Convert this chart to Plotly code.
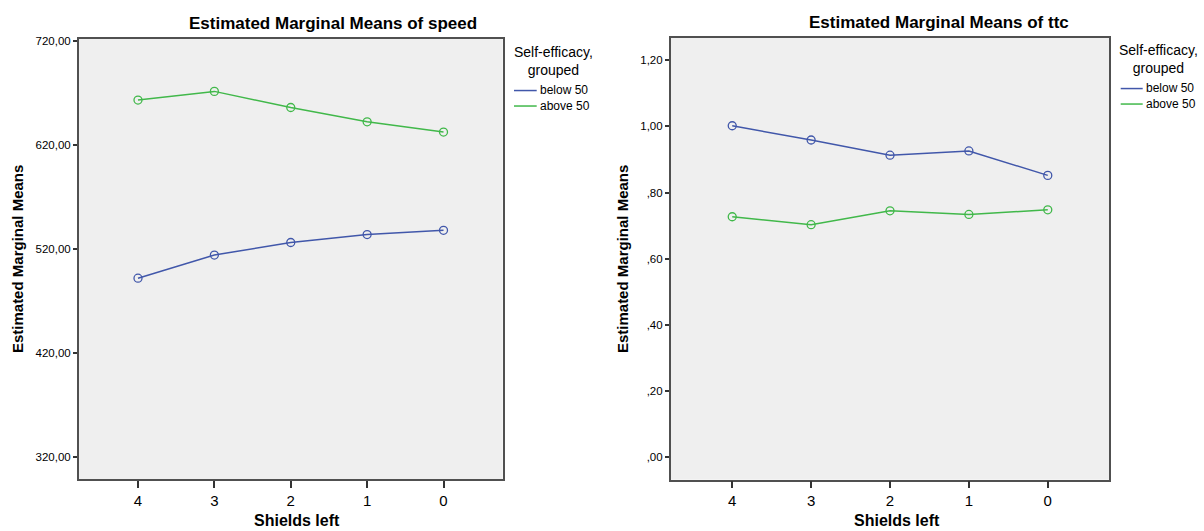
import plotly.graph_objects as go

# ---- data ----
shields = ["4", "3", "2", "1", "0"]
speed_below50 = [492.1, 514.3, 526.4, 534.0, 538.1]
speed_above50 = [663.3, 671.6, 656.1, 642.4, 632.5]
ttc_below50 = [1.002, 0.959, 0.913, 0.926, 0.852]
ttc_above50 = [0.727, 0.703, 0.745, 0.734, 0.748]

speed_ticks = [320, 420, 520, 620, 720]
speed_ticktext = ["320,00", "420,00", "520,00", "620,00", "720,00"]
ttc_ticks = [0.0, 0.2, 0.4, 0.6, 0.8, 1.0, 1.2]
ttc_ticktext = [",00", ",20", ",40", ",60", ",80", "1,00", "1,20"]

group_names = ["below 50", "above 50"]
legend_title = ["Self-efficacy,", "grouped"]
BLUE = "#4157aa"
GREEN = "#41b84a"
FONT = "Arial, Liberation Sans, sans-serif"

W, H = 1204, 531


def px_x(p):
    return p / W


def px_y(p):
    return 1 - p / H


fig = go.Figure()

panels = [
    ("x", "y", [speed_below50, speed_above50]),
    ("x2", "y2", [ttc_below50, ttc_above50]),
]
for xa, ya, series in panels:
    for name, vals, col in zip(group_names, series, [BLUE, GREEN]):
        fig.add_trace(go.Scatter(
            x=shields, y=vals, xaxis=xa, yaxis=ya, mode="lines+markers", name=name,
            line=dict(color=col, width=1.5),
            marker=dict(symbol="circle-open", size=8, color=col, line=dict(width=1.3)),
            showlegend=False, hoverinfo="skip"))

axis_common = dict(
    showline=True, linecolor="#505050", linewidth=1.5, mirror=True,
    showgrid=False, zeroline=False, ticks="outside", tickcolor="#333333",
    tickwidth=1.5, color="#000000",
)

annotations = []
shapes = []

# chart titles
for text, cx, cy in [("Estimated Marginal Means of speed", 333, 20),
                     ("Estimated Marginal Means of ttc", 939, 19)]:
    annotations.append(dict(text=f"<b>{text}</b>", xref="paper", yref="paper",
                            x=px_x(cx), y=px_y(cy), xanchor="center", yanchor="middle",
                            showarrow=False, font=dict(size=17)))

# y-axis titles
for cx, cy in [(17, 257), (622, 257)]:
    annotations.append(dict(text="<b>Estimated Marginal Means</b>", xref="paper", yref="paper",
                            x=px_x(cx), y=px_y(cy), xanchor="center", yanchor="middle",
                            textangle=-90, showarrow=False, font=dict(size=15)))

# x-axis titles
for cx, cy in [(297, 520), (897, 520)]:
    annotations.append(dict(text="<b>Shields left</b>", xref="paper", yref="paper",
                            x=px_x(cx), y=px_y(cy), xanchor="center", yanchor="middle",
                            showarrow=False, font=dict(size=16)))

# legends (one per panel): title block + item block
ITEM_FS = 12
ITEM_STEP = 15.6  # rendered line spacing for a 12px two-line annotation
for tx, tcy, lx0, lx1, icy in [(553, 57, 514, 536.7, 95),
                               (1158, 55, 1120.7, 1142.7, 93)]:
    annotations.append(dict(text="<br>".join(legend_title), xref="paper", yref="paper",
                            x=px_x(tx), y=px_y(tcy), xanchor="center", yanchor="middle",
                            align="center", showarrow=False, font=dict(size=14)))
    annotations.append(dict(text="<br>".join(group_names), xref="paper", yref="paper",
                            x=px_x(lx1 + 1), y=px_y(icy), xanchor="left", yanchor="middle",
                            align="left", showarrow=False, font=dict(size=ITEM_FS)))
    for k, col in enumerate([BLUE, GREEN]):
        yy = icy + (k - 0.5) * ITEM_STEP
        shapes.append(dict(type="line", xref="paper", yref="paper",
                           x0=px_x(lx0), x1=px_x(lx1), y0=px_y(yy), y1=px_y(yy),
                           line=dict(color=col, width=1.5)))

fig.update_layout(
    width=W, height=H,
    margin=dict(l=0, r=0, t=0, b=0),
    paper_bgcolor="white",
    plot_bgcolor="#efefef",
    font=dict(family=FONT, color="black", size=12),
    showlegend=False,
    xaxis=dict(domain=[px_x(78.8), px_x(502.7)], anchor="y", type="category",
               categoryorder="array", categoryarray=shields,
               range=[-0.775, 4.775], ticklen=7, tickfont=dict(size=15),
               **axis_common),
    yaxis=dict(domain=[px_y(478.7), px_y(35)], anchor="x",
               range=[299.0, 722.2], tickvals=speed_ticks, ticktext=speed_ticktext,
               ticklen=4, tickfont=dict(size=11.5),
               **axis_common),
    xaxis2=dict(domain=[px_x(670.7), px_x(1109.3)], anchor="y2", type="category",
                categoryorder="array", categoryarray=shields,
                range=[-0.78, 4.78], ticklen=7, tickfont=dict(size=15),
                **axis_common),
    yaxis2=dict(domain=[px_y(479.3), px_y(34)], anchor="x2",
                range=[-0.0675, 1.268], tickvals=ttc_ticks, ticktext=ttc_ticktext,
                ticklen=4, tickfont=dict(size=11.5),
                **axis_common),
    annotations=annotations,
    shapes=shapes,
)

fig.write_html("out.html")
